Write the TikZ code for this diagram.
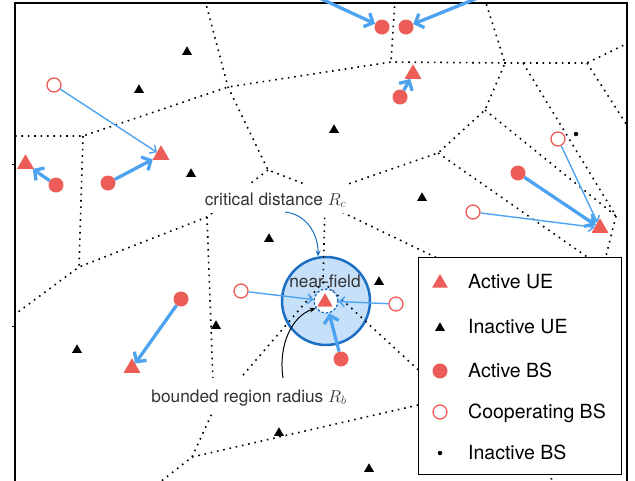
\documentclass[tikz,border=0pt]{standalone}
\usepackage{fontspec}
\setmainfont{TeX Gyre Heros}
\usetikzlibrary{arrows.meta,shapes.geometric}
\definecolor{ured}{RGB}{236,93,88}
\definecolor{ablue}{RGB}{77,163,240}
\definecolor{dblue}{RGB}{26,110,196}
\definecolor{nfill}{RGB}{198,224,249}
\definecolor{tgray}{RGB}{51,51,51}
\tikzset{
  vor/.style={line width=1.6pt, dash pattern=on 1.6pt off 4.8pt, black},
  aue/.style={regular polygon, regular polygon sides=3, fill=ured, inner sep=0pt, minimum size=19pt},
  iue/.style={regular polygon, regular polygon sides=3, fill=black, inner sep=0pt, minimum size=11.5pt},
  abs/.style={circle, fill=ured, inner sep=0pt, minimum size=15pt},
  cbs/.style={circle, draw=ured, line width=1.3pt, fill=white, inner sep=0pt, minimum size=14pt},
  ibs/.style={circle, fill=black, inner sep=0pt, minimum size=4.5pt},
  tarr/.style={ablue, line width=3.3pt, -{Straight Barb[length=7pt,width=15pt]}},
  narr/.style={ablue, line width=1.4pt, -{Straight Barb[length=5pt,width=10pt]}},
  annot/.style={text=tgray, font=\fontsize{17.3pt}{20pt}\selectfont, inner sep=0pt},
  legtext/.style={anchor=base west, font=\fontsize{19.5pt}{22pt}\selectfont, inner sep=0pt}
}
\begin{document}
\begin{tikzpicture}[x=1pt,y=-1pt]
\useasboundingbox (0,0) rectangle (635,480);
\clip (0,0) rectangle (635,480);
% near-field disc
\node[circle, fill=nfill, draw=dblue, line width=2.5pt, minimum size=88pt, inner sep=0pt] (nf) at (326,301) {};
% Voronoi cells
\begin{scope}
\clip (15,3) rectangle (627,490);
\draw[vor] (15,136) -- (83,136) -- (228,87) -- (391,62) -- (505,63) -- (523,63) -- (587,63) -- (630,42);
\draw[vor] (205,0) -- (228,87) -- (268,170) -- (325,192) -- (438,153) -- (485,110) -- (505,63) -- (485,0);
\draw[vor] (395,0) -- (391,62);
\draw[vor] (587,63) -- (630,130);
\draw[vor] (523,63) -- (616,216);
\draw[vor] (485,110) -- (616,216);
\draw[vor] (616,216) -- (603,268) -- (640,264);
\draw[vor] (438,153) -- (603,268);
\draw[vor] (268,170) -- (207,217) -- (79,267) -- (10,318);
\draw[vor] (83,136) -- (79,267);
\draw[vor] (207,217) -- (214,409) -- (192,457) -- (150,490);
\draw[vor] (192,457) -- (440,400);
\draw[vor] (325,192) -- (325,204) -- (323,282) -- (214,409);
\draw[vor] (325,204) -- (460,269);
\draw[vor] (323,282) -- (440,390);
\draw[vor] (546,440) -- (553,490);
\end{scope}
% frame
\draw[line width=1.3pt] (15,490) -- (15,3) -- (627,3) -- (627,490);
\draw[line width=1pt] (12,164) -- (15,164) (12,326) -- (15,326);
% bounded region
\node[circle, draw=dblue, line width=1.3pt, dash pattern=on 2.5pt off 1.8pt, fill=white, minimum size=24pt, inner sep=0pt] (br) at (326,301) {};
% inactive UEs
\node[iue] (i1) at (187,52) {};
\node[iue] (i2) at (139,90) {};
\node[iue] (i3) at (191,174) {};
\node[iue] (i4) at (269,239) {};
\node[iue] (i5) at (334,130) {};
\node[iue] (i6) at (422,198) {};
\node[iue] (i7) at (216,326) {};
\node[iue] (i8) at (77,350) {};
\node[iue] (i9) at (279,433) {};
\node[iue] (i10) at (369,469) {};
\node[iue] (i11) at (379,282) {};
% inactive BS
\node[ibs] (d1) at (576,134) {};
% active UEs
\node[aue] (u1) at (25.5,164) {};
\node[aue] (u2) at (161,155) {};
\node[aue] (u3) at (413,74) {};
\node[aue] (u4) at (600,228) {};
\node[aue] (u5) at (132,368) {};
\node[aue, minimum size=17pt] (u6) at (325,302) {};
% active BSs
\node[abs] (b1) at (56,185) {};
\node[abs] (b2) at (108,183) {};
\node[abs] (b3) at (382,27) {};
\node[abs] (b4) at (406,27) {};
\node[abs] (b5) at (400,97) {};
\node[abs] (b6) at (518,173) {};
\node[abs] (b7) at (181,299) {};
\node[abs] (b8) at (341,359) {};
% cooperating BSs
\node[cbs] (c1) at (54,85) {};
\node[cbs] (c2) at (558,139) {};
\node[cbs] (c3) at (473,212) {};
\node[cbs] (c4) at (241,291) {};
\node[cbs] (c5) at (396,304) {};
% off-picture sources
\coordinate (t1) at (300,-11);
\coordinate (t2) at (495,-9);
% links
\draw[tarr] (b1) -- (u1);
\draw[tarr] (b2) -- (u2);
\draw[tarr] (b5) -- (u3);
\draw[tarr] (b6) -- (u4);
\draw[tarr] (b7) -- (u5);
\draw[tarr] (b8) -- (br);
\draw[tarr] (t1) -- (b3);
\draw[tarr] (t2) -- (b4);
\draw[narr] (c1) -- (u2);
\draw[narr] (c2) -- (u4);
\draw[narr] (c3) -- (u4);
\draw[narr] (c4) -- (br);
\draw[narr] (c5) -- (br);
% redraw markers over arrows
\node[aue] at (u1) {};
\node[aue] at (u2) {};
\node[aue] at (u3) {};
\node[aue] at (u4) {};
\node[aue] at (u5) {};
\node[aue, minimum size=17pt] at (u6) {};
% annotations
\node[annot, fill=white, anchor=base, text height=21pt, text depth=8pt, inner xsep=3pt] (rc) at (275.5,205) {critical distance $R_c$};
\node[annot, fill=white, anchor=base, text height=24pt, text depth=11pt, inner xsep=3pt] (rb) at (249,402) {bounded region radius $R_b$};
\node[annot, anchor=base] (nft) at (325,287) {near-field};
\coordinate (rcs) at (285,212);
\coordinate (rbs) at (283,378);
\draw[dblue, line width=1pt, -{Stealth[length=6pt,width=5pt]}] (rcs) .. controls (305,214) and (318,232) .. (nf.100);
\draw[black, line width=1pt, -{Stealth[length=6pt,width=5pt]}] (rbs) .. controls (278,345) and (292,316) .. (br.215);
% legend
\node[draw, line width=1.3pt, fill=white, anchor=north west, minimum width=203pt, minimum height=217pt, inner sep=0pt] (leg) at (418,257) {};
\node[aue, minimum size=18pt] (l1) at (440,283) {};
\node[iue] (l2) at (440,328) {};
\node[abs] (l3) at (440,371) {};
\node[cbs] (l4) at (440,412) {};
\node[ibs] (l5) at (440,453) {};
\node[legtext] (lt1) at (468,288.5) {Active UE};
\node[legtext] (lt2) at (468,333.5) {Inactive UE};
\node[legtext] (lt3) at (468,377.5) {Active BS};
\node[legtext] (lt4) at (468,418.5) {Cooperating BS};
\node[legtext] (lt5) at (468,459.5) {Inactive BS};
\end{tikzpicture}
\end{document}
